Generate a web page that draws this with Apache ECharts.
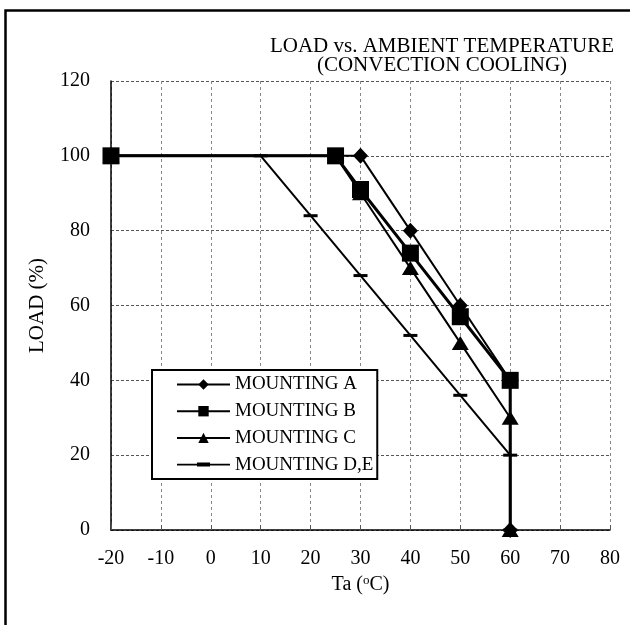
<!DOCTYPE html>
<html>
<head>
<meta charset="utf-8">
<script src="https://cdn.jsdelivr.net/npm/echarts@6/dist/echarts.min.js"></script>
<style>
html,body{margin:0;padding:0;background:#fff;}
#c{width:630px;height:625px;}
</style>
</head>
<body>
<div id="c"></div>
<script>
// Data
const xTicksMin = -20, xTicksMax = 80, xStep = 10;
const yTicksMin = 0, yTicksMax = 120, yStep = 20;

const seriesNames = ['MOUNTING A', 'MOUNTING B', 'MOUNTING C', 'MOUNTING D,E'];

const xA = [-20, 30, 40, 50, 60, 60];
const yA = [100, 100, 80, 60, 40, 0];

const xB = [-20, 25, 30, 40, 50, 60, 60];
const yB = [100, 100, 91, 74, 57, 40, 0];

const xC = [-20, 25, 30, 40, 50, 60, 60];
const yC = [100, 100, 90, 70, 50, 30, 0];

const xD = [-20, 10, 20, 30, 40, 50, 60, 60];
const yD = [100, 100, 84, 68, 52, 36, 20, 0];

const titleLines = ['LOAD vs. AMBIENT TEMPERATURE', '(CONVECTION COOLING)'];

const FONT = '"Liberation Serif", "Times New Roman", serif';

function pairs(xs, ys) { return xs.map((x, i) => [x, ys[i]]); }

const dataB = pairs(xB, yB).map((p, i, arr) => i === arr.length - 1 ? {value: p, symbol: 'none'} : p);

const chart = echarts.init(document.getElementById('c'), null, {renderer: 'canvas'});

const option = {
  animation: false,
  backgroundColor: '#fff',
  textStyle: {fontFamily: FONT, color: '#000'},
  title: {
    text: titleLines.join('\n'),
    left: 437,
    top: 32,
    textAlign: 'center',
    textStyle: {fontFamily: FONT, fontSize: 21, fontWeight: 'normal', color: '#000', lineHeight: 19}
  },
  graphic: [{
    type: 'rect',
    shape: {x: 5.5, y: 10.5, width: 700, height: 700},
    style: {fill: 'none', stroke: '#000', lineWidth: 2.5},
    silent: true, z: -1
  }],
  legend: {
    orient: 'vertical',
    left: 152,
    top: 370,
    padding: [5, 4, 5, 24],
    itemWidth: 53,
    itemHeight: 13,
    itemGap: 7.7,
    borderColor: '#000',
    borderWidth: 2,
    backgroundColor: '#fff',
    symbolKeepAspect: true,
    data: [
      seriesNames[0],
      seriesNames[1],
      seriesNames[2],
      {name: seriesNames[3], icon: 'path://M0,1.2H53V2.8H0ZM20,0H33V4H20Z'}
    ],
    textStyle: {fontFamily: FONT, fontSize: 19, color: '#000', lineHeight: 16}
  },
  grid: {left: 111, right: 20, top: 81, bottom: 95, containLabel: false},
  xAxis: {
    type: 'value',
    min: xTicksMin, max: xTicksMax, interval: xStep,
    name: 'Ta ({s|o}C)',
    nameLocation: 'middle',
    nameGap: 32,
    nameTextStyle: {fontFamily: FONT, fontSize: 20, color: '#000',
      rich: {s: {fontFamily: FONT, fontSize: 13, color: '#000', verticalAlign: 'top', padding: [0, 0, 8, 0]}}},
    axisLine: {show: true, onZero: false, lineStyle: {color: '#000', width: 1.5}},
    axisTick: {show: true, inside: true, length: 5, lineStyle: {color: '#555'}},
    axisLabel: {fontFamily: FONT, fontSize: 20, color: '#000', margin: 19},
    splitLine: {show: true, lineStyle: {color: '#888', type: [3, 3], width: 1}}
  },
  yAxis: {
    type: 'value',
    min: yTicksMin, max: yTicksMax, interval: yStep,
    name: 'LOAD (%)',
    nameLocation: 'middle',
    nameGap: 63,
    nameTextStyle: {fontFamily: FONT, fontSize: 21, color: '#000'},
    axisLine: {show: true, onZero: false, lineStyle: {color: '#000', width: 1.5}},
    axisTick: {show: false},
    axisLabel: {fontFamily: FONT, fontSize: 20, color: '#000', margin: 21},
    splitLine: {show: true, lineStyle: {color: '#555', type: [3, 2], width: 1}}
  },
  series: [
    {
      name: seriesNames[0], type: 'line', data: pairs(xA, yA),
      symbol: 'diamond', symbolSize: [15, 16], clip: false, z: 4,
      lineStyle: {color: '#000', width: 2}, itemStyle: {color: '#000'}
    },
    {
      name: seriesNames[1], type: 'line', data: dataB,
      symbol: 'rect', symbolSize: 17, clip: false, z: 3,
      lineStyle: {color: '#000', width: 3}, itemStyle: {color: '#000'}
    },
    {
      name: seriesNames[2], type: 'line', data: pairs(xC, yC),
      symbol: 'triangle', symbolSize: [17, 14], clip: false, z: 2,
      lineStyle: {color: '#000', width: 2}, itemStyle: {color: '#000'}
    },
    {
      name: seriesNames[3], type: 'line', data: pairs(xD, yD),
      symbol: 'rect', symbolSize: [14, 3], clip: false, z: 1,
      lineStyle: {color: '#000', width: 2}, itemStyle: {color: '#000'}
    }
  ]
};
chart.setOption(option);
</script>
</body>
</html>
